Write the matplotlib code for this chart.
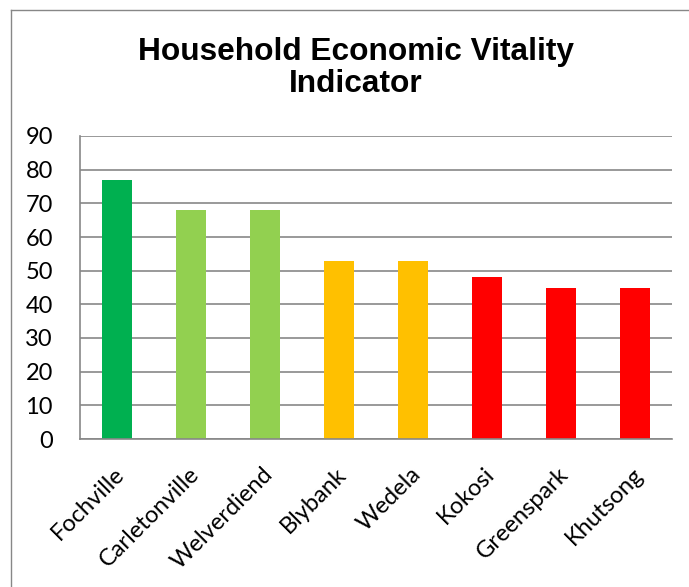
import numpy as np
import matplotlib.pyplot as plt
from matplotlib.lines import Line2D
import matplotlib.transforms as mtransforms

towns = ["Fochville", "Carletonville", "Welverdiend", "Blybank", "Wedela",
         "Kokosi", "Greenspark", "Khutsong"]
vitality = [77, 68, 68, 53, 53, 48, 45, 45]
bar_colors = ["#00B050", "#92D050", "#92D050", "#FFC000", "#FFC000",
              "#FF0000", "#FF0000", "#FF0000"]
y_ticks = np.arange(0, 91, 10)

W, H = 689, 587
fig = plt.figure(figsize=(W / 100, H / 100), dpi=100)
ax = fig.add_axes([80 / W, 1 - 439 / H, 592 / W, 303 / H])

x = np.arange(len(towns))
ax.set_axisbelow(True)
ax.yaxis.grid(True, color="#878787", linewidth=1.2)
ax.bar(x, vitality, width=0.41, color=bar_colors, zorder=2)

ax.set_xlim(-0.5, len(towns) - 0.5)
ax.set_ylim(0, 90)
ax.set_yticks(y_ticks)
ax.set_xticks(x)
ax.set_xticklabels(towns, rotation=45, ha="right", va="top",
                   rotation_mode="anchor", family="Lato", fontsize=17)
ax.tick_params(axis="x", length=0, pad=17.5)
ax.tick_params(axis="y", length=0, pad=19.5, labelsize=17)
for lab in ax.get_yticklabels():
    lab.set_family("Lato")
shift = mtransforms.ScaledTranslation(-3 / 100, 0, fig.dpi_scale_trans)
for lab in ax.get_xticklabels():
    lab.set_transform(lab.get_transform() + shift)

for s in ["top", "right"]:
    ax.spines[s].set_visible(False)
for s in ["left", "bottom"]:
    ax.spines[s].set_color("#878787")
    ax.spines[s].set_linewidth(1.2)

# outer chart frame (only left and top edges visible in the crop)
fig.add_artist(Line2D([11 / W, 11 / W], [0, 1 - 10 / H], transform=fig.transFigure,
                      color="#878787", linewidth=1))
fig.add_artist(Line2D([11 / W, 1], [1 - 10 / H, 1 - 10 / H], transform=fig.transFigure,
                      color="#878787", linewidth=1))

fig.text(356 / W, 1 - 68 / H, "Household Economic Vitality\nIndicator",
         ha="center", va="center", family="Liberation Sans", weight="bold",
         fontsize=22.8, linespacing=1.1)

fig.savefig("out.png", dpi=100)
